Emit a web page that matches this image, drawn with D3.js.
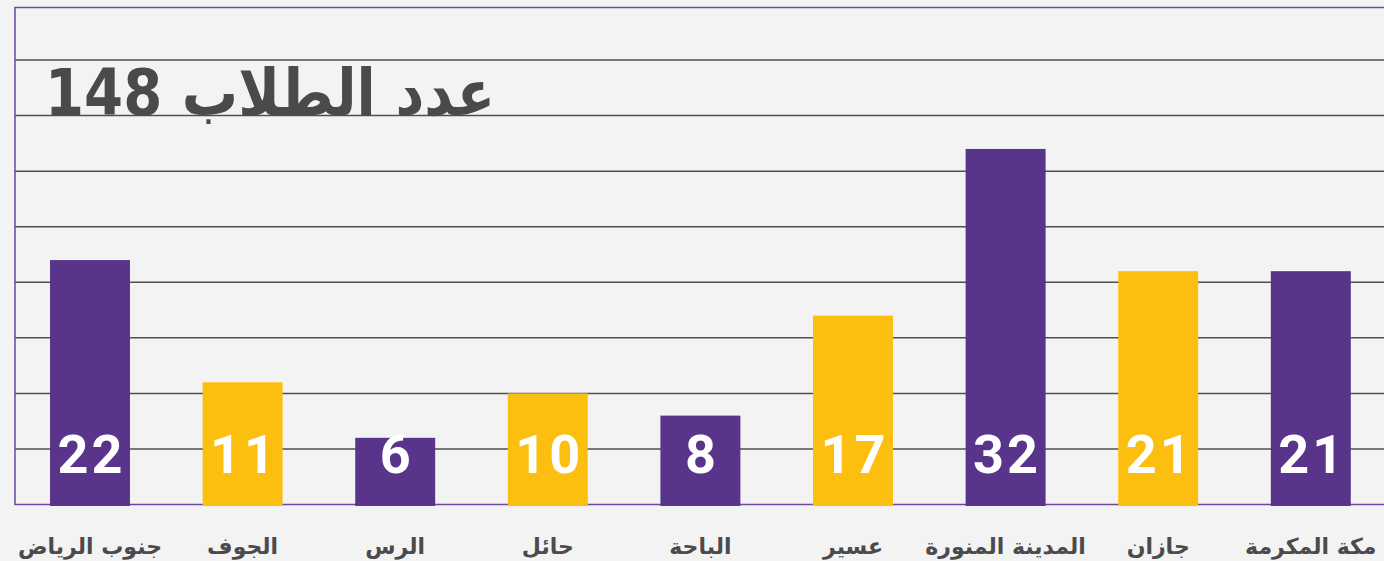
<!DOCTYPE html>
<html>
<head>
<meta charset="UTF-8">
<title>عدد الطلاب</title>
<script src="https://cdn.jsdelivr.net/npm/d3@7"></script>
<style>
	body { margin: 0; background: #f3f3f3; overflow: hidden; }
</style>
</head>
<body>
	<div id="graph"></div>
	<script type="text/javascript">
		var regions = ["جنوب الرياض", "الجوف", "الرس", "حائل", "الباحة", "عسير", "المدينة المنورة", "جازان", "مكة المكرمة"];
		var students = [22, 11, 6, 10, 8, 17, 32, 21, 21];
		var barColors = ["#59348b", "#fcbf10"];
		var gridTicks = [5, 10, 15, 20, 25, 30, 35, 40];
		var title = "عدد الطلاب 148";

		var width = 1384, height = 561;

		var svg = d3.select("#graph").append("svg").attr("width", width).attr("height", height);

		svg.append("rect").attr("width", width).attr("height", height).attr("fill", "#f3f3f3");

		var x = d3.scaleBand().domain(regions).range([ 13.7, 1387.1 ]).paddingInner(0.476).paddingOuter(0.238);
		var y = d3.scaleLinear().domain([ 0, 45 ]).range([ 504.5, 4.5 ]);

		// grid lines
		svg.append("g").selectAll("line").data(gridTicks).enter().append("line")
			.attr("x1", 15).attr("x2", width).attr("y1", function(d) { return y(d); }).attr("y2", function(d) { return y(d); })
			.attr("stroke", "#4f4f4f").attr("stroke-width", 1.5);

		// frame
		svg.append("path").attr("d", "M" + width + ",7.5H15V" + y(0) + "H" + width)
			.attr("fill", "none").attr("stroke", "#6a48a3").attr("stroke-width", 1.5);

		// bars
		svg.append("g").selectAll("rect").data(students).enter().append("rect")
			.attr("x", function(d, i) { return x(regions[i]); })
			.attr("y", function(d) { return y(d); })
			.attr("width", x.bandwidth())
			.attr("height", function(d) { return y(0) - y(d) + 1.5; })
			.attr("fill", function(d, i) { return barColors[i % 2]; });

		// values
		svg.append("g").selectAll("text").data(students).enter().append("text")
			.attr("x", function(d, i) { return x(regions[i]) + x.bandwidth() / 2 + 1.5; })
			.attr("y", 472.5)
			.attr("text-anchor", "middle")
			.attr("fill", "#ffffff")
			.style("font-family", "Roboto, 'DejaVu Sans', sans-serif")
			.style("font-weight", "bold")
			.style("font-size", "54px")
			.style("letter-spacing", "3px")
			.text(function(d) { return d; });

		// category labels
		svg.append("g").selectAll("text").data(regions).enter().append("text")
			.attr("x", function(d) { return x(d) + x.bandwidth() / 2; })
			.attr("y", 554)
			.attr("text-anchor", "middle")
			.attr("direction", "rtl")
			.attr("fill", "#4b4b4d")
			.style("font-family", "'DejaVu Sans', sans-serif")
			.style("font-weight", "bold")
			.style("font-size", "22px")
			.text(function(d) { return d; });

		svg.append("text")
			.attr("x", 495).attr("y", 115)
			.attr("direction", "rtl")
			.attr("text-anchor", "start")
			.attr("textLength", 450)
			.attr("lengthAdjust", "spacingAndGlyphs")
			.attr("fill", "#4a4a4c")
			.style("font-family", "'DejaVu Sans', sans-serif")
			.style("font-weight", "bold")
			.style("font-size", "64px")
			.text(title);
	</script>
</body>
</html>
